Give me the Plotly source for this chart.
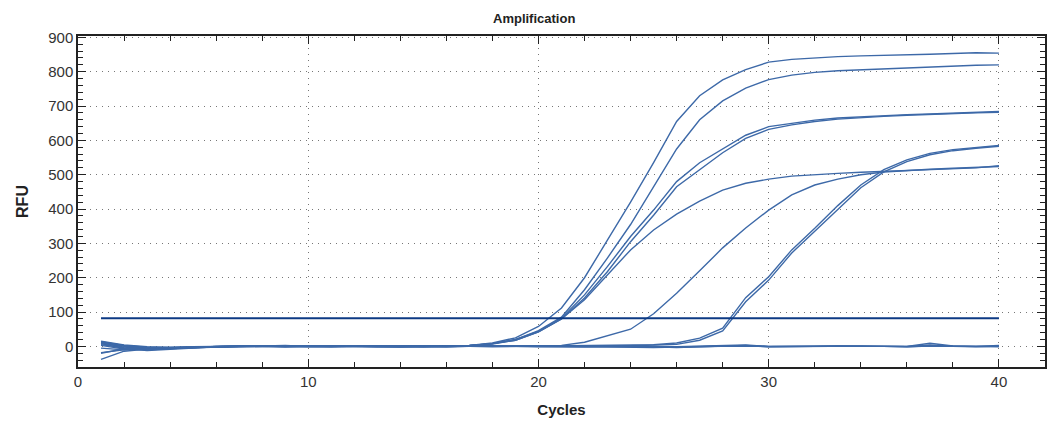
import plotly.graph_objects as go

cycles = list(range(1, 41))

curve_a = [12, 3, -2, -3, -1, 0, 1, 0, 2, 0, -1, 1, 0, 1, 2, 1, 3,
           10, 25, 58, 112, 200, 310, 420, 535, 655, 730, 776, 806, 828, 836, 841, 844, 846, 847, 849, 851, 853, 855, 854]
curve_b = [5, -4, -8, -5, -2, 0, 0, 1, 0, -1, 0, 1, -1, 0, 1, 2, 3,
           8, 20, 46, 85, 165, 258, 355, 465, 575, 660, 715, 752, 777, 790, 798, 803, 806, 809, 812, 815, 817, 819, 820]
curve_c = [-18, -10, -6, -4, -2, -1, 0, 0, 1, 0, 0, -1, 0, 1, 0, 1, 2,
           8, 20, 44, 82, 150, 233, 320, 397, 480, 535, 576, 615, 640, 650, 659, 665, 669, 672, 675, 677, 680, 682, 684]
curve_d = [8, -6, -12, -8, -4, -1, 0, -1, 0, 1, 0, 0, -2, -1, 0, 1, 2,
           7, 18, 42, 80, 141, 218, 305, 382, 465, 515, 564, 606, 632, 645, 655, 662, 667, 670, 673, 676, 678, 680, 682]
curve_e = [15, 4, -1, -3, -2, 0, 1, 0, -1, 0, 1, 0, 0, -1, 0, 2, 3,
           8, 18, 42, 80, 136, 210, 281, 339, 385, 423, 455, 475, 487, 496, 501, 504, 507, 510, 513, 515, 517, 520, 526]
curve_f = [-38, -14, -8, -6, -3, -1, 0, 0, 1, 0, -1, 0, 1, 0, -1, 0, 0, 1, 1, 2,
           3, 12, 30, 50, 95, 155, 220, 287, 345, 397, 441, 470, 487, 500, 508, 513, 516, 519, 521, 524]
curve_g = [10, -2, -6, -4, -2, 0, 1, 0, -1, 0, 0, 1, 0, -1, 0, 1, 0, -1, 0, 1,
           0, 1, 2, 3, 5, 10, 24, 53, 142, 203, 281, 344, 410, 470, 515, 543, 562, 573, 579, 585]
curve_h = [3, -8, -10, -6, -3, -1, 0, 1, 0, -1, 0, 0, 1, 0, -1, 0, 1, 0, 0, 0,
           1, 0, 1, 2, 3, 6, 18, 45, 130, 193, 272, 336, 400, 462, 508, 538, 558, 570, 577, 583]
neg_1 = [14, 2, -4, -6, -4, -2, -1, 0, 3, 0, -1, 0, 1, -1, -2, 0, 1, 2, 0, -1,
         0, -1, 0, 1, 0, -1, 0, 1, 4, 0, -1, 0, 1, 0, -1, 0, 4, 0, -1, 1]
neg_2 = [-5, -10, -6, -4, -2, 0, 1, 0, -2, 0, 1, 2, 0, 1, 0, -1, 2, 0, 1, 2,
         0, -1, -2, -1, -3, -2, -1, 0, 2, -1, 0, 1, 0, 1, 0, -1, 2, 1, 0, -1]
neg_3 = [10, 0, -5, -5, -3, -1, 0, 0, -1, 1, 0, -1, 0, -1, 1, -1, 0, 1, 0, -1,
         -1, 0, -2, 0, -1, -3, -1, 0, 3, -1, 0, -1, 1, 0, 1, 0, 9, 1, 0, 3]
neg_4 = [-20, -7, -4, -3, -2, -1, 0, 0, 1, 0, 0, 1, 0, 0, 2, 1, 0, 0, 1, 1,
         2, 1, 0, 0, -2, -1, 0, -1, 1, 0, -1, 0, 0, 1, 0, -1, 1, 0, -1, 0]

series = [curve_a, curve_b, curve_c, curve_d, curve_e, curve_f, curve_g, curve_h,
          neg_1, neg_2, neg_3, neg_4]

threshold = 82
x_ticks = [0, 10, 20, 30, 40]
y_ticks = [0, 100, 200, 300, 400, 500, 600, 700, 800, 900]

FONT = "Liberation Sans, Arial, sans-serif"
W, H = 1054, 421
ML, MR, MT, MB = 78, 9, 36, 54

fig = go.Figure()
for s in series:
    fig.add_trace(go.Scatter(x=cycles, y=s, mode="lines",
                             line=dict(color="#3d69a8", width=1.4),
                             showlegend=False, hoverinfo="skip"))
fig.add_trace(go.Scatter(x=[cycles[0], cycles[-1]], y=[threshold, threshold], mode="lines",
                         line=dict(color="#0d3a84", width=2.2),
                         showlegend=False, hoverinfo="skip"))

axis_common = dict(
    showline=True, linecolor="#222", linewidth=1.5, mirror="allticks",
    ticks="inside", tickcolor="#222", tickwidth=1.3,
    showgrid=True, gridcolor="#777", gridwidth=1, griddash="1px,5px",
    zeroline=False, automargin=False,
    tickfont=dict(family=FONT, size=15, color="#333"),
)

fig.update_layout(
    width=W, height=H,
    margin=dict(l=ML, r=MR, t=MT, b=MB, autoexpand=False),
    paper_bgcolor="white", plot_bgcolor="white",
    xaxis=dict(range=[0, 42], tickvals=x_ticks, ticklen=8,
               minor=dict(dtick=2, tick0=0, ticklen=5, ticks="inside", tickcolor="#222", showgrid=False),
               title=dict(text="<b>Cycles</b>", standoff=16,
                          font=dict(family=FONT, size=15, color="#222")),
               **axis_common),
    yaxis=dict(range=[-60, 904], tickvals=y_ticks, ticklen=8,
               minor=dict(dtick=20, tick0=0, ticklen=5, ticks="inside", tickcolor="#222", showgrid=False),
               title=dict(text="<b>RFU</b>", standoff=16,
                          font=dict(family=FONT, size=16, color="#222")),
               **axis_common),
    annotations=[dict(text="<b>Amplification</b>",
                      x=(534 - ML) / (W - ML - MR), y=1 + (MT - 18) / (H - MT - MB),
                      xref="paper", yref="paper", showarrow=False,
                      xanchor="center", yanchor="middle",
                      font=dict(family=FONT, size=13, color="#222"))],
)

fig.write_html("out.html", config={"displayModeBar": False},
               post_script="document.body.style.margin='0';document.body.style.overflow='hidden';")
